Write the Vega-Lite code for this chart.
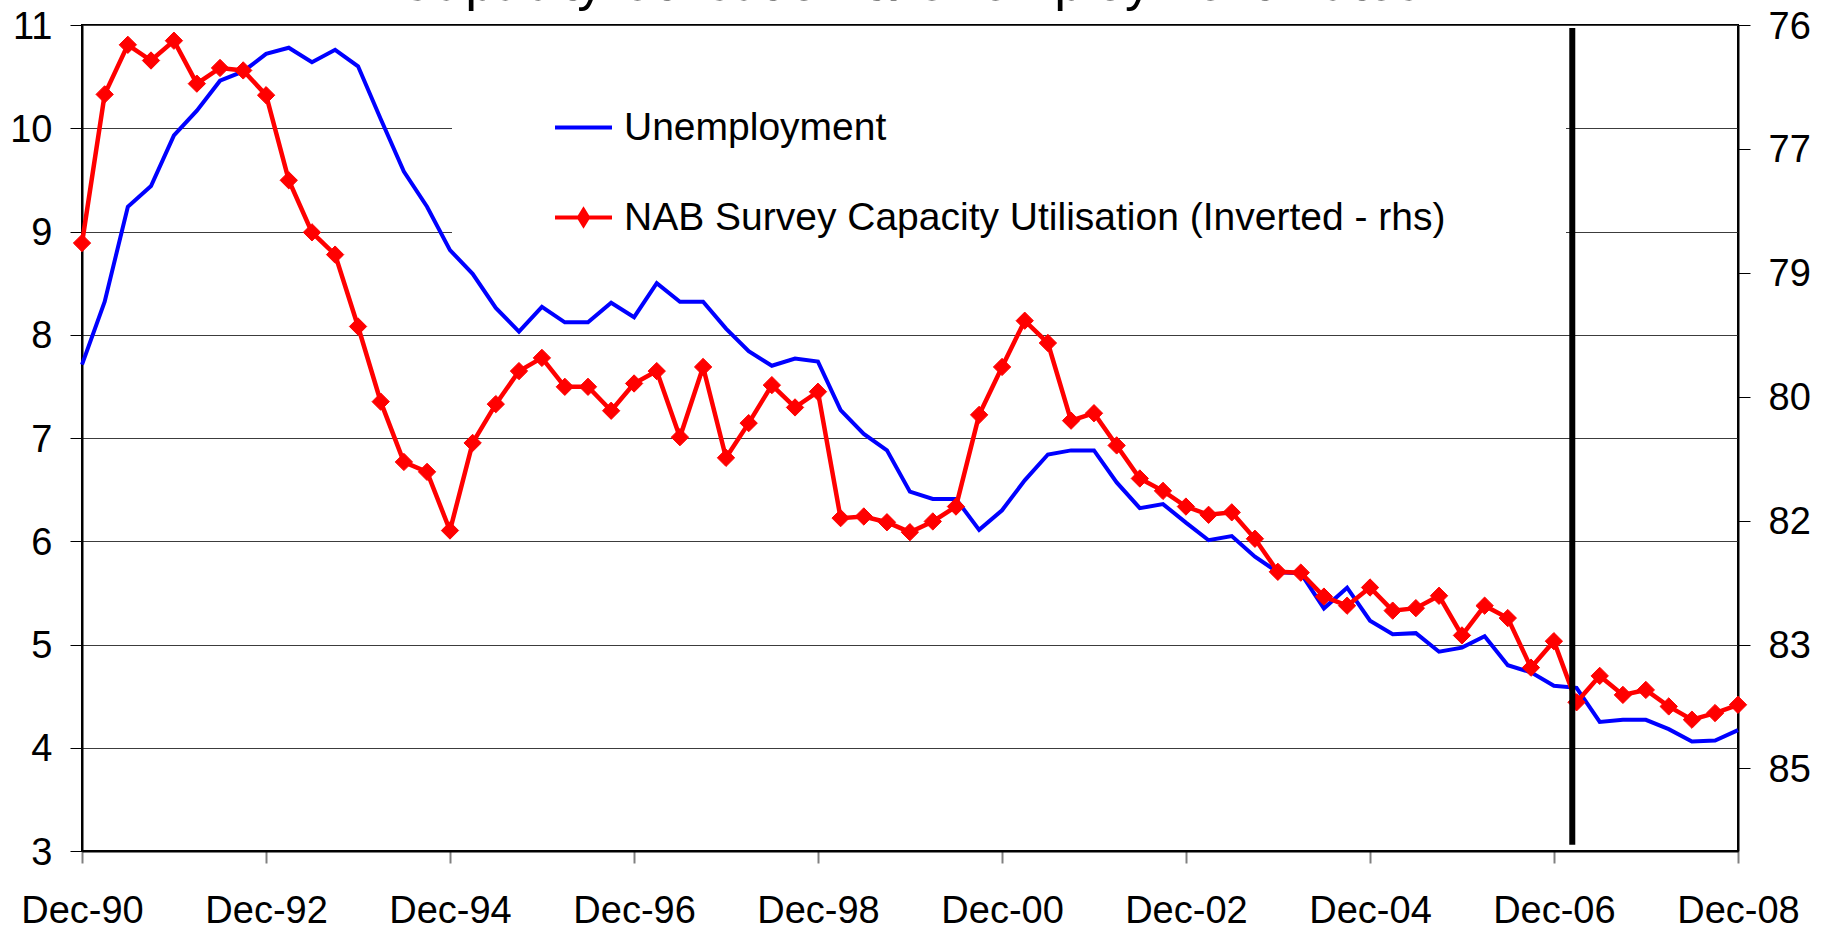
{
  "$schema": "https://vega.github.io/schema/vega-lite/v6.json",
  "autosize": {"type": "none"},
  "width": 1656,
  "height": 826,
  "padding": {"left": 82, "top": 25, "right": 95, "bottom": 78},
  "background": "white",
  "title": {
    "text": "Capacity Utilisation & Unemployment Rates",
    "fontSize": 53,
    "fontWeight": "normal",
    "font": "Liberation Sans",
    "color": "black",
    "anchor": "middle",
    "frame": "group",
    "baseline": "alphabetic",
    "offset": -17,
    "dy": 28
  },
  "config": {
    "font": "Liberation Sans",
    "view": {"stroke": "black", "strokeWidth": 2}
  },
  "data": {
    "values": [
      {"date": "1990-12-01", "unemp": 7.71, "cu": 78.59},
      {"date": "1991-03-01", "unemp": 8.32, "cu": 76.79},
      {"date": "1991-06-01", "unemp": 9.24, "cu": 76.19},
      {"date": "1991-09-01", "unemp": 9.44, "cu": 76.38},
      {"date": "1991-12-01", "unemp": 9.93, "cu": 76.14},
      {"date": "1992-03-01", "unemp": 10.17, "cu": 76.66},
      {"date": "1992-06-01", "unemp": 10.46, "cu": 76.47},
      {"date": "1992-09-01", "unemp": 10.55, "cu": 76.50},
      {"date": "1992-12-01", "unemp": 10.72, "cu": 76.80},
      {"date": "1993-03-01", "unemp": 10.78, "cu": 77.83},
      {"date": "1993-06-01", "unemp": 10.64, "cu": 78.46},
      {"date": "1993-09-01", "unemp": 10.76, "cu": 78.73},
      {"date": "1993-12-01", "unemp": 10.60, "cu": 79.60},
      {"date": "1994-03-01", "unemp": 10.09, "cu": 80.51},
      {"date": "1994-06-01", "unemp": 9.58, "cu": 81.24},
      {"date": "1994-09-01", "unemp": 9.24, "cu": 81.36},
      {"date": "1994-12-01", "unemp": 8.82, "cu": 82.07},
      {"date": "1995-03-01", "unemp": 8.59, "cu": 81.01},
      {"date": "1995-06-01", "unemp": 8.26, "cu": 80.54},
      {"date": "1995-09-01", "unemp": 8.03, "cu": 80.14},
      {"date": "1995-12-01", "unemp": 8.27, "cu": 79.98},
      {"date": "1996-03-01", "unemp": 8.12, "cu": 80.33},
      {"date": "1996-06-01", "unemp": 8.12, "cu": 80.33},
      {"date": "1996-09-01", "unemp": 8.31, "cu": 80.62},
      {"date": "1996-12-01", "unemp": 8.17, "cu": 80.29},
      {"date": "1997-03-01", "unemp": 8.50, "cu": 80.14},
      {"date": "1997-06-01", "unemp": 8.32, "cu": 80.94},
      {"date": "1997-09-01", "unemp": 8.32, "cu": 80.09},
      {"date": "1997-12-01", "unemp": 8.06, "cu": 81.19},
      {"date": "1998-03-01", "unemp": 7.84, "cu": 80.77},
      {"date": "1998-06-01", "unemp": 7.70, "cu": 80.31},
      {"date": "1998-09-01", "unemp": 7.77, "cu": 80.58},
      {"date": "1998-12-01", "unemp": 7.74, "cu": 80.39},
      {"date": "1999-03-01", "unemp": 7.27, "cu": 81.92},
      {"date": "1999-06-01", "unemp": 7.04, "cu": 81.90},
      {"date": "1999-09-01", "unemp": 6.88, "cu": 81.97},
      {"date": "1999-12-01", "unemp": 6.48, "cu": 82.09},
      {"date": "2000-03-01", "unemp": 6.41, "cu": 81.96},
      {"date": "2000-06-01", "unemp": 6.41, "cu": 81.78},
      {"date": "2000-09-01", "unemp": 6.11, "cu": 80.67},
      {"date": "2000-12-01", "unemp": 6.30, "cu": 80.09},
      {"date": "2001-03-01", "unemp": 6.59, "cu": 79.53},
      {"date": "2001-06-01", "unemp": 6.84, "cu": 79.80},
      {"date": "2001-09-01", "unemp": 6.88, "cu": 80.74},
      {"date": "2001-12-01", "unemp": 6.88, "cu": 80.65},
      {"date": "2002-03-01", "unemp": 6.57, "cu": 81.04},
      {"date": "2002-06-01", "unemp": 6.32, "cu": 81.44},
      {"date": "2002-09-01", "unemp": 6.36, "cu": 81.59},
      {"date": "2002-12-01", "unemp": 6.18, "cu": 81.78},
      {"date": "2003-03-01", "unemp": 6.01, "cu": 81.88},
      {"date": "2003-06-01", "unemp": 6.05, "cu": 81.85},
      {"date": "2003-09-01", "unemp": 5.85, "cu": 82.17},
      {"date": "2003-12-01", "unemp": 5.70, "cu": 82.57},
      {"date": "2004-03-01", "unemp": 5.69, "cu": 82.58},
      {"date": "2004-06-01", "unemp": 5.35, "cu": 82.87},
      {"date": "2004-09-01", "unemp": 5.55, "cu": 82.98},
      {"date": "2004-12-01", "unemp": 5.23, "cu": 82.76},
      {"date": "2005-03-01", "unemp": 5.10, "cu": 83.04},
      {"date": "2005-06-01", "unemp": 5.11, "cu": 83.01},
      {"date": "2005-09-01", "unemp": 4.93, "cu": 82.86},
      {"date": "2005-12-01", "unemp": 4.97, "cu": 83.34},
      {"date": "2006-03-01", "unemp": 5.08, "cu": 82.98},
      {"date": "2006-06-01", "unemp": 4.80, "cu": 83.13},
      {"date": "2006-09-01", "unemp": 4.73, "cu": 83.73},
      {"date": "2006-12-01", "unemp": 4.60, "cu": 83.41},
      {"date": "2007-03-01", "unemp": 4.58, "cu": 84.15},
      {"date": "2007-06-01", "unemp": 4.25, "cu": 83.83},
      {"date": "2007-09-01", "unemp": 4.27, "cu": 84.06},
      {"date": "2007-12-01", "unemp": 4.27, "cu": 84.00},
      {"date": "2008-03-01", "unemp": 4.18, "cu": 84.20},
      {"date": "2008-06-01", "unemp": 4.06, "cu": 84.36},
      {"date": "2008-09-01", "unemp": 4.07, "cu": 84.28},
      {"date": "2008-12-01", "unemp": 4.17, "cu": 84.18}
    ]
  },
  "encoding": {
    "x": {
      "field": "date",
      "type": "temporal",
      "scale": {
        "type": "utc",
        "nice": false,
        "domain": [
          {"year": 1990, "month": 12, "date": 1, "utc": true},
          {"year": 2008, "month": 12, "date": 1, "utc": true}
        ]
      },
      "axis": {
        "values": [
          {"year": 1990, "month": 12, "date": 1, "utc": true},
          {"year": 1992, "month": 12, "date": 1, "utc": true},
          {"year": 1994, "month": 12, "date": 1, "utc": true},
          {"year": 1996, "month": 12, "date": 1, "utc": true},
          {"year": 1998, "month": 12, "date": 1, "utc": true},
          {"year": 2000, "month": 12, "date": 1, "utc": true},
          {"year": 2002, "month": 12, "date": 1, "utc": true},
          {"year": 2004, "month": 12, "date": 1, "utc": true},
          {"year": 2006, "month": 12, "date": 1, "utc": true},
          {"year": 2008, "month": 12, "date": 1, "utc": true}
        ],
        "format": "%b-%y",
        "grid": false,
        "title": null,
        "labelFontSize": 38,
        "labelColor": "black",
        "labelFlush": false,
        "labelOverlap": false,
        "labelBound": false,
        "tickSize": 12,
        "tickColor": "#808080",
        "tickWidth": 2,
        "labelPadding": 29,
        "domainColor": "black",
        "domainWidth": 2
      }
    }
  },
  "layer": [
    {
      "mark": {"type": "line", "strokeWidth": 4, "color": "#0000ff"},
      "encoding": {
        "y": {
          "field": "unemp",
          "type": "quantitative",
          "scale": {"domain": [3, 11], "nice": false, "zero": false},
          "axis": {
            "orient": "left",
            "values": [3, 4, 5, 6, 7, 8, 9, 10, 11],
            "format": "d",
            "title": null,
            "grid": true,
            "gridColor": "#3c3c3c",
            "gridWidth": 1,
            "labelFontSize": 38,
            "labelColor": "black",
            "labelPadding": 18,
            "labelOffset": 2,
            "labelFlush": false,
            "labelBound": false,
            "tickSize": 12,
            "tickColor": "black",
            "tickWidth": 1,
            "domainColor": "black",
            "domainWidth": 2
          }
        },
        "color": {
          "datum": "Unemployment",
          "type": "nominal",
          "scale": {
            "domain": ["Unemployment", "NAB Survey Capacity Utilisation (Inverted - rhs)"],
            "range": ["#0000ff", "#ff0000"]
          },
          "legend": {
            "title": "\u00a0",
            "titleOrient": "right",
            "titlePadding": 111,
            "titleFontSize": 10,
            "orient": "none",
            "legendX": 370,
            "legendY": 73,
            "padding": 10,
            "fillColor": "white",
            "strokeColor": null,
            "labelFontSize": 39,
            "labelColor": "black",
            "labelLimit": 3000,
            "labelOffset": 21,
            "symbolOffset": 102,
            "symbolSize": 812,
            "rowPadding": 50,
            "encode": {
              "symbols": {
                "update": {
                  "shape": {"signal": "datum.value === 'Unemployment' ? 'M-2,0H2' : 'M-2,0H2M0,-0.52L0.32,0L0,0.52L-0.32,0Z'"},
                  "size": {"value": 812},
                  "strokeWidth": {"value": 4},
                  "stroke": {"signal": "datum.value === 'Unemployment' ? '#0000ff' : '#ff0000'"},
                  "fill": {"signal": "datum.value === 'Unemployment' ? 'transparent' : '#ff0000'"},
                  "opacity": {"value": 1},
                  "fillOpacity": {"value": 1},
                  "strokeOpacity": {"value": 1}
                }
              }
            }
          }
        }
      }
    },
    {
      "encoding": {
        "y": {
          "field": "cu",
          "type": "quantitative",
          "scale": {"domain": [75.95, 85.95], "nice": false, "zero": false, "reverse": true},
          "axis": {
            "orient": "right",
            "values": [75.95, 77.45, 78.95, 80.45, 81.95, 83.45, 84.95],
            "format": ".0f",
            "title": null,
            "grid": false,
            "labelFontSize": 38,
            "labelColor": "black",
            "labelPadding": 18,
            "labelOffset": 2,
            "labelFlush": false,
            "labelBound": false,
            "tickSize": 12,
            "tickColor": "black",
            "tickWidth": 1,
            "domainColor": "black",
            "domainWidth": 2
          }
        },
        "color": {"datum": "NAB Survey Capacity Utilisation (Inverted - rhs)", "type": "nominal"}
      },
      "layer": [
        {"mark": {"type": "line", "strokeWidth": 4.5, "color": "#ff0000"}},
        {"mark": {"type": "point", "shape": "diamond", "filled": true, "size": 300, "stroke": "#ff0000", "strokeWidth": 1, "opacity": 1}}
      ]
    },
    {
      "data": {"values": [{"date": "2007-02-12", "lo": 3.06, "hi": 10.97}]},
      "mark": {"type": "rule", "color": "black", "strokeWidth": 6},
      "encoding": {
        "y": {"field": "lo", "type": "quantitative", "scale": {"domain": [3, 11], "nice": false, "zero": false}, "axis": null},
        "y2": {"field": "hi"}
      }
    }
  ],
  "resolve": {"scale": {"y": "independent"}}
}
